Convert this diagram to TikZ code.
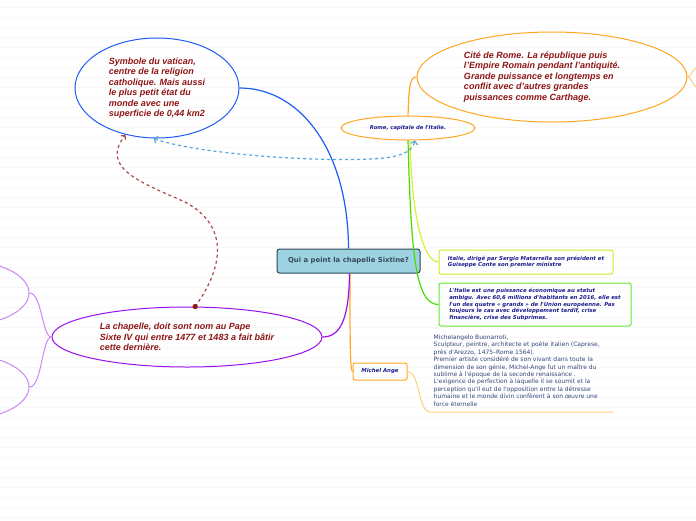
\documentclass[tikz,border=0pt]{standalone}
\usepackage{fontspec}
\setmainfont{Liberation Sans}
\newfontfamily\dvs{DejaVu Sans}
\usetikzlibrary{shapes.geometric,arrows.meta}
\definecolor{vblue}{HTML}{1F5CF5}
\definecolor{dred}{HTML}{8E1515}
\definecolor{dblue}{HTML}{1C1C8F}
\definecolor{orng}{HTML}{FFA722}
\definecolor{lorng}{HTML}{FFCF80}
\definecolor{purp}{HTML}{9A10EE}
\definecolor{lpurp}{HTML}{CC88F2}
\definecolor{cfill}{HTML}{9DD3E1}
\definecolor{cborder}{HTML}{2C4657}
\definecolor{ctext}{HTML}{394A5C}
\definecolor{ygreen}{HTML}{CCEE22}
\definecolor{grn}{HTML}{5EEA2E}
\definecolor{grnline}{HTML}{44DD00}
\definecolor{yline}{HTML}{DDEE33}
\definecolor{mtext}{HTML}{34467C}
\definecolor{rdash}{HTML}{B04545}
\definecolor{bdash}{HTML}{55A8DD}
\definecolor{rulec}{HTML}{F7F7F7}
\tikzset{
  bigell/.style={ellipse, inner sep=0pt, line width=1pt, align=left, text=dred,
    font=\bfseries\itshape\fontsize{9}{10.5}\selectfont},
  smallbox/.style={rectangle, rounded corners=2pt, line width=1pt, inner sep=0pt,
    align=left, text=dblue, font=\dvs\bfseries\itshape\fontsize{5.4}{6.6}\selectfont},
  conn/.style={line width=1.2pt},
}
\begin{document}
\begin{tikzpicture}[x=1pt,y=-1pt]
\useasboundingbox (0,0) rectangle (696,520);
\fill[white] (0,0) rectangle (696,520);
\foreach \yy in {7,17,...,517} \draw[rulec, line width=1pt] (0,\yy) -- (696,\yy);

% nodes
\node[bigell, draw=vblue, minimum width=164, minimum height=100] (vat) at (157,88)
 {Symbole du vatican,\\centre de la religion\\catholique. Mais aussi\\le plus petit état du\\monde avec une\\superficie de 0,44 km2};
\node[ellipse, inner sep=0pt, line width=1pt, text=dred,
    font=\bfseries\itshape\fontsize{9}{10.5}\selectfont,
    draw=orng, minimum width=270, minimum height=90] (rome2) at (552,77)
 {\hspace*{-20pt}\begin{tabular}{@{}l@{}}Cité de Rome. La république puis\\l'Empire Romain pendant l'antiquité.\\Grande puissance et longtemps en\\conflit avec d'autres grandes\\puissances comme Carthage.\end{tabular}};
\node[ellipse, draw=orng, line width=1pt, minimum width=134, minimum height=24, inner sep=0pt,
  text=dblue, font=\dvs\bfseries\itshape\fontsize{5.3}{6}\selectfont] (rome) at (408,128)
 {Rome, capitale de l'Italie.};
\node[bigell, draw=purp, minimum width=270, minimum height=60] (pur) at (187,337)
 {La chapelle, doit sont nom au Pape\\Sixte IV qui entre 1477 et 1483 a fait bâtir\\cette dernière.};
\node[ellipse, draw=lpurp, line width=1pt, minimum width=138, minimum height=66] (leftA) at (-40,293) {};
\node[ellipse, draw=lpurp, line width=1pt, minimum width=138, minimum height=66] (leftB) at (-40,387) {};
\node[rectangle, rounded corners=2.5pt, fill=cfill, draw=cborder, line width=1pt,
  minimum width=143, minimum height=24, inner sep=0pt, text=ctext,
  font=\dvs\bfseries\fontsize{6.9}{8}\selectfont] (cent) at (348.5,261)
 {Qui a peint la chapelle Sixtine?};
\node[smallbox, draw=ygreen, minimum width=174, minimum height=24] (yel) at (526,262)
 {Italie, dirigé par Sergio Matarrella son président et\\Guiseppe Conte son premier ministre};
\node[smallbox, draw=grn, minimum width=192, minimum height=43] (grbox) at (535,304.5)
 {L'Italie est une puissance économique au statut\\ambigu. Avec 60,6 millions d'habitants en 2016, elle est\\l'un des quatre « grands » de l'Union européenne. Pas\\toujours le cas avec développement tardif, crise\\financière, crise des Subprimes.};
\node[smallbox, draw=orng, minimum width=54, minimum height=17] (mich) at (380,371.5)
 {Michel Ange};
\node[anchor=north west, inner sep=0pt, align=left, text=mtext,
  font=\dvs\fontsize{6}{7.45}\selectfont] (mtxt) at (433.5,334.5)
 {Michelangelo Buonarroti,\\Sculpteur, peintre, architecte et poète italien (Caprese,\\près d'Arezzo, 1475–Rome 1564).\\Premier artiste considéré de son vivant dans toute la\\dimension de son génie, Michel-Ange fut un maître du\\sublime à l'époque de la seconde renaissance .\\L'exigence de perfection à laquelle il se soumit et la\\perception qu'il eut de l'opposition entre la détresse\\humaine et le monde divin confèrent à son œuvre une\\force éternelle};
\coordinate (ul1) at (430,412);
\coordinate (ul2) at (613,412);
\coordinate (r1) at (696,68);
\coordinate (r2) at (696,87);

% connectors
\draw[vblue, conn] (cent.north) .. controls (348,150) and (300,88) .. (vat.east);
\draw[orng, conn] (rome.north) .. controls (409,85) and (410,77) .. (rome2.west);
\draw[lorng, line width=1pt] (rome2.east) .. controls (691,77) and (692,70) .. (r1);
\draw[lorng, line width=1pt] (rome2.east) .. controls (691,77) and (692,84) .. (r2);
\draw[grnline, conn] (rome.south) .. controls (411,250) and (415,305) .. (grbox.west);
\draw[yline, conn] ([xshift=2pt]rome.south) .. controls (412,225) and (425,262) .. (yel.west);
\draw[orng, conn] ([xshift=1.5pt]cent.south) .. controls (350,340) and (350,371.5) .. (mich.west);
\draw[lorng, line width=1pt] (mich.east) .. controls (420,371.5) and (418,412) .. (ul1) -- (ul2);
\draw[purp, conn] ([xshift=1pt]cent.south) .. controls (349,320) and (340,337) .. (pur.east);
\draw[lpurp, line width=1pt] (pur.west) .. controls (42,337) and (42,293) .. (leftA.east);
\draw[lpurp, line width=1pt] (pur.west) .. controls (42,337) and (42,387) .. (leftB.east);
\draw[rdash, line width=1.2pt, dashed, -{Straight Barb[length=3pt,width=6pt]}]
  (pur.75) .. controls (225,265) and (228,225) .. (185,202)
  .. controls (140,182) and (100,168) .. (vat.236);
\fill[dred] (pur.75) circle (2.6);
\draw[bdash, line width=1.2pt, dashed, {Straight Barb[length=3pt,width=7pt]}-{Straight Barb[length=3pt,width=7pt]}]
  (vat.266) .. controls (190,152) and (300,162) .. (370,159)
  .. controls (400,158) and (412,152) .. (rome.-60);
\end{tikzpicture}
\end{document}
